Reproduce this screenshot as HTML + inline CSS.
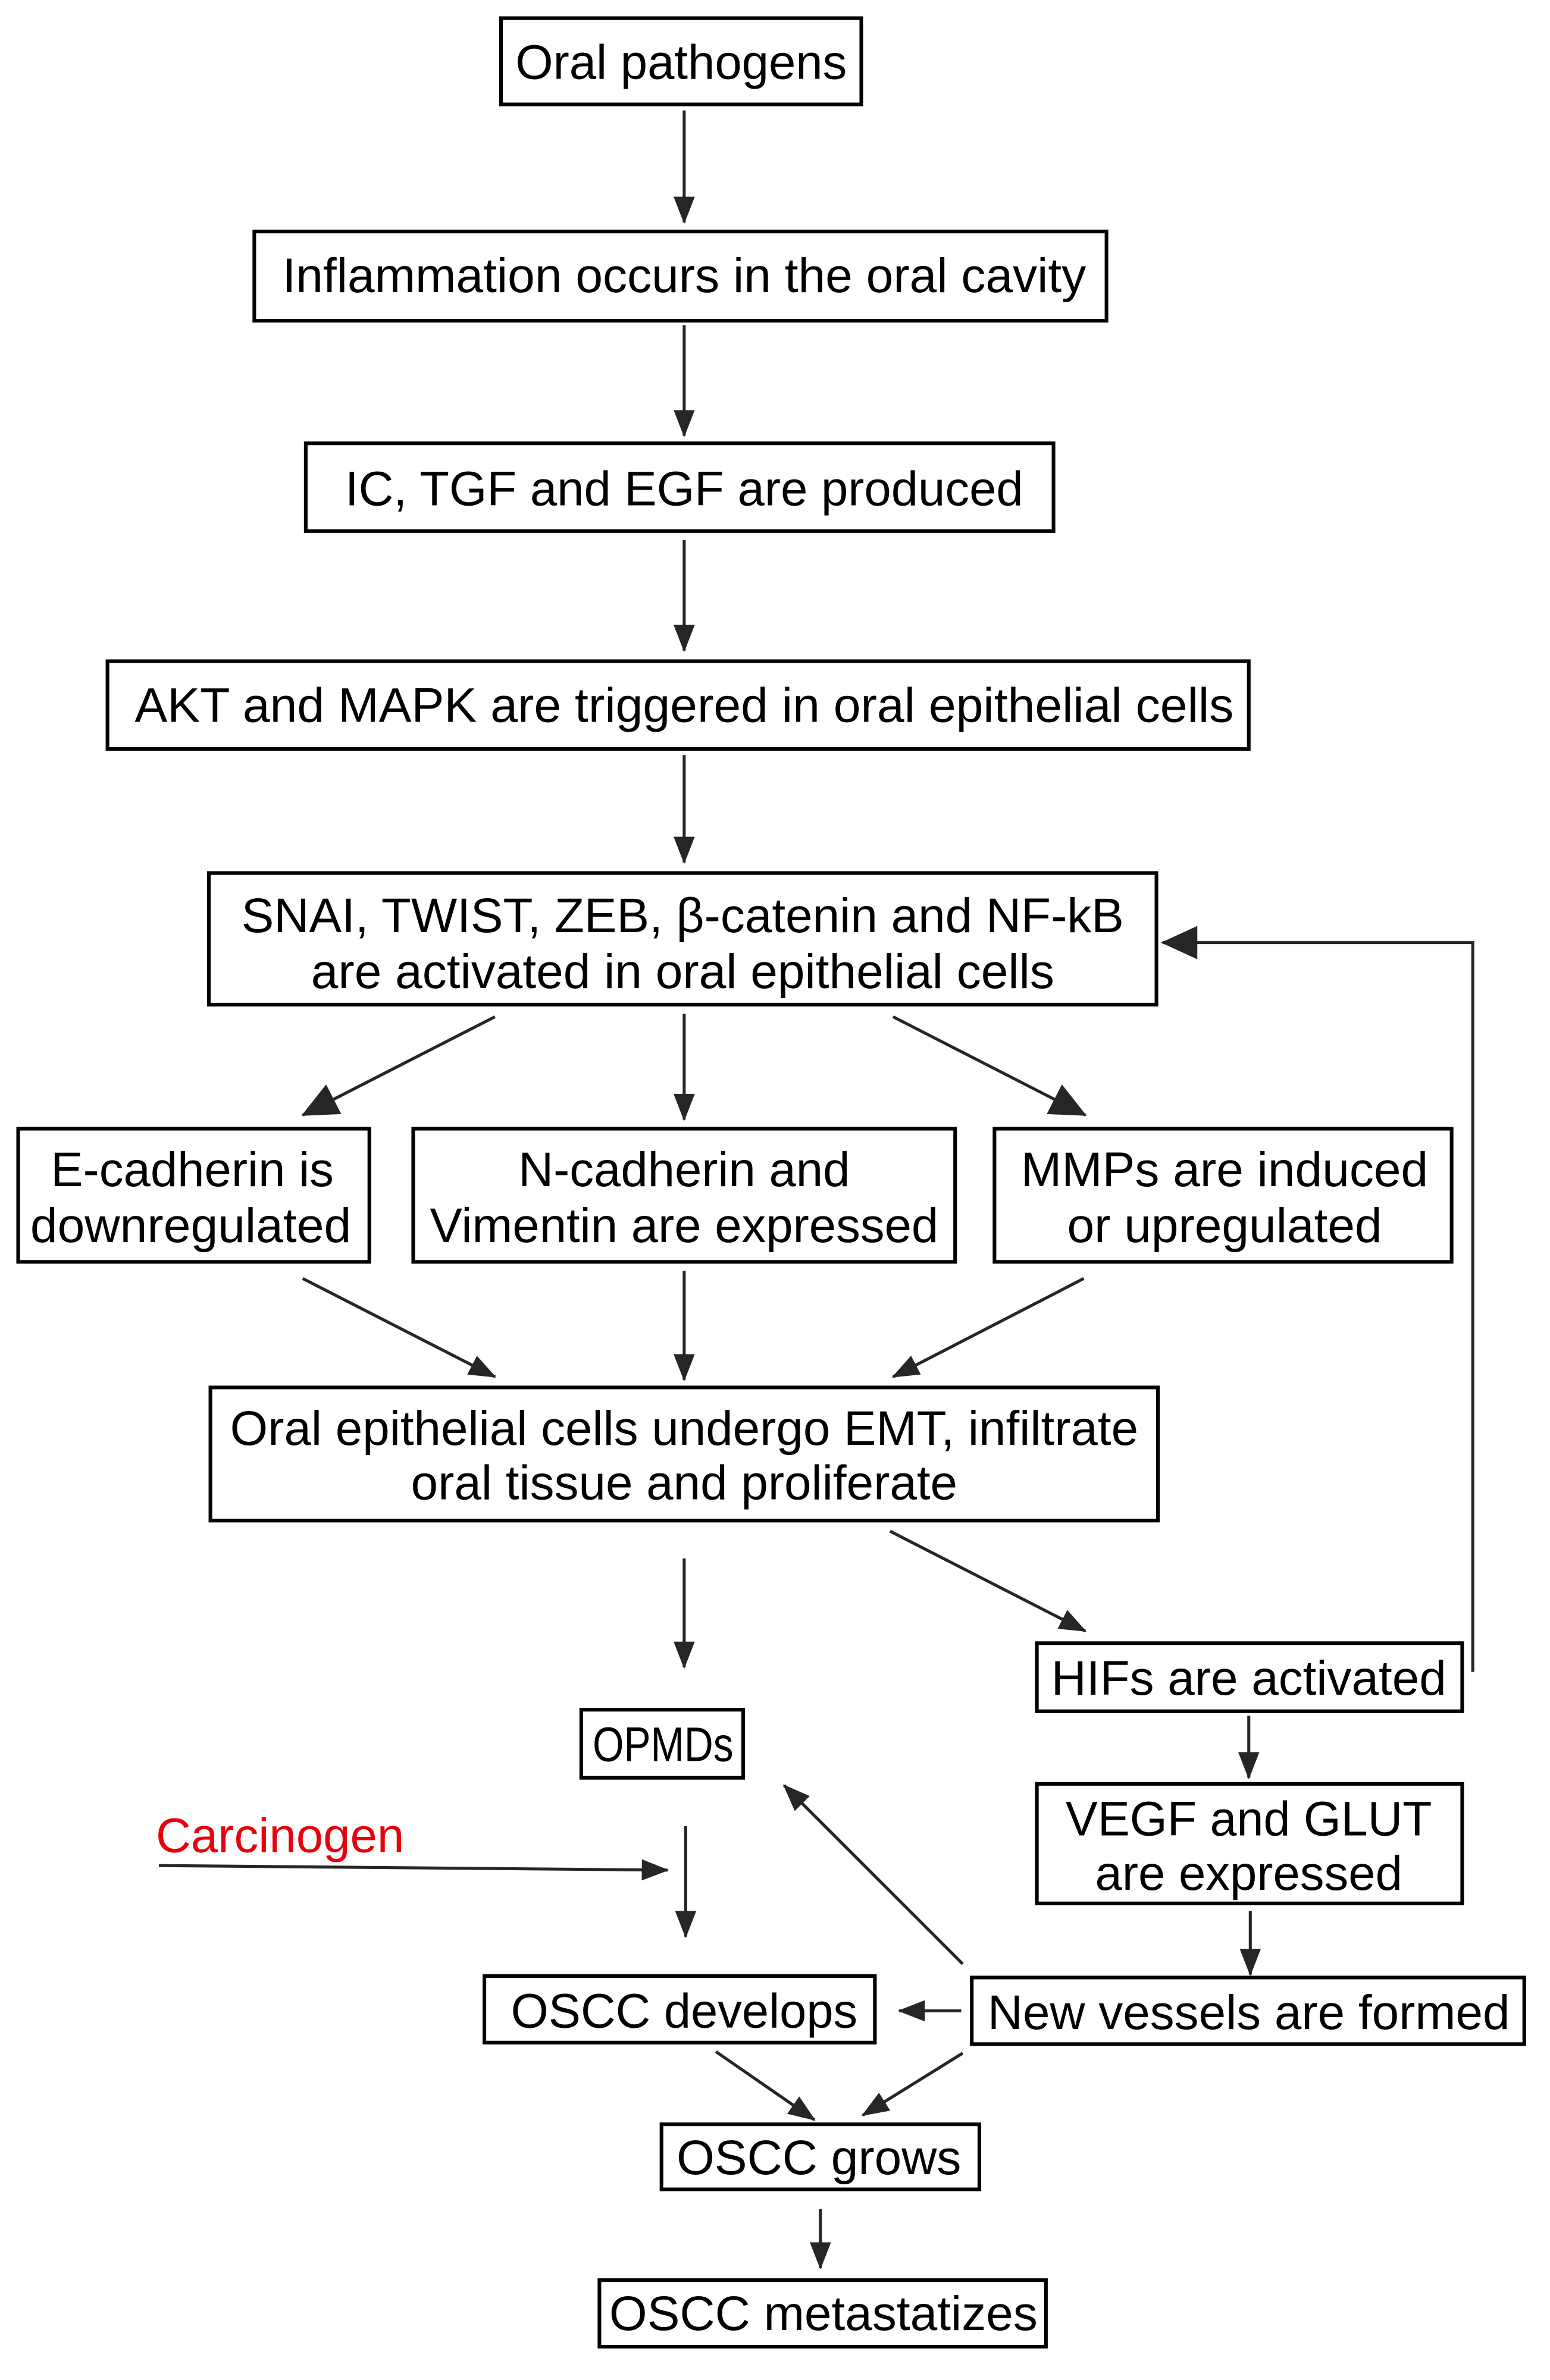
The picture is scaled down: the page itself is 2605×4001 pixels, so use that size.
<!DOCTYPE html>
<html><head><meta charset="utf-8"><style>
html,body{margin:0;padding:0;background:#fff;}
svg{display:block;}
text{font-family:"Liberation Sans",Arial,sans-serif;font-size:32px;fill:#000;text-anchor:middle;}
rect{fill:#fff;stroke:#000;stroke-width:2.4;}
line,polyline{stroke:#262626;stroke-width:2;fill:none;}
</style></head><body>
<svg width="2605" height="4001" viewBox="0 0 1024 1573" preserveAspectRatio="none" xmlns="http://www.w3.org/2000/svg">
<defs>
<marker id="s" markerWidth="18" markerHeight="14" refX="17" refY="7" orient="auto" markerUnits="userSpaceOnUse" viewBox="0 0 18 14"><path d="M0,0 L18,7 L0,14z" fill="#262626"/></marker>
<marker id="b" markerWidth="24" markerHeight="22" refX="23" refY="11" orient="auto" markerUnits="userSpaceOnUse" viewBox="0 0 24 22"><path d="M0,0 L24,11 L0,22z" fill="#262626"/></marker>
</defs>
<g>
<rect x="331" y="12" width="238" height="57"/><text x="450" y="52" textLength="219" lengthAdjust="spacingAndGlyphs">Oral pathogens</text>
<rect x="168" y="153" width="563" height="59"/><text x="452" y="193" textLength="531" lengthAdjust="spacingAndGlyphs">Inflammation occurs in the oral cavity</text>
<rect x="202" y="293" width="494" height="58"/><text x="452" y="334" textLength="448" lengthAdjust="spacingAndGlyphs">IC, TGF and EGF are produced</text>
<rect x="71" y="437" width="754" height="58"/><text x="452" y="477" textLength="726" lengthAdjust="spacingAndGlyphs">AKT and MAPK are triggered in oral epithelial cells</text>
<rect x="138" y="577" width="626" height="87"/><text x="451" y="616" textLength="583" lengthAdjust="spacingAndGlyphs">SNAI, TWIST, ZEB, β-catenin and NF-kB</text><text x="451" y="653" textLength="491" lengthAdjust="spacingAndGlyphs">are activated in oral epithelial cells</text>
<rect x="12" y="746" width="232" height="88"/><text x="127" y="784" textLength="187" lengthAdjust="spacingAndGlyphs">E-cadherin is</text><text x="126" y="821" textLength="212" lengthAdjust="spacingAndGlyphs">downregulated</text>
<rect x="273" y="746" width="358" height="88"/><text x="452" y="784" textLength="219" lengthAdjust="spacingAndGlyphs">N-cadherin and</text><text x="452" y="821" textLength="336" lengthAdjust="spacingAndGlyphs">Vimentin are expressed</text>
<rect x="657" y="746" width="302" height="88"/><text x="809" y="784" textLength="269" lengthAdjust="spacingAndGlyphs">MMPs are induced</text><text x="809" y="821" textLength="208" lengthAdjust="spacingAndGlyphs">or upregulated</text>
<rect x="139" y="917" width="626" height="88"/><text x="452" y="955" textLength="600" lengthAdjust="spacingAndGlyphs">Oral epithelial cells undergo EMT, infiltrate</text><text x="452" y="991" textLength="361" lengthAdjust="spacingAndGlyphs">oral tissue and proliferate</text>
<rect x="685" y="1086" width="281" height="45"/><text x="825" y="1120" textLength="261" lengthAdjust="spacingAndGlyphs">HIFs are activated</text>
<rect x="384" y="1130" width="107" height="45"/><text x="438" y="1164" textLength="93" lengthAdjust="spacingAndGlyphs">OPMDs</text>
<rect x="685" y="1179" width="281" height="79"/><text x="825" y="1213" textLength="242" lengthAdjust="spacingAndGlyphs">VEGF and GLUT</text><text x="825" y="1249" textLength="203" lengthAdjust="spacingAndGlyphs">are expressed</text>
<rect x="320" y="1306" width="258" height="44"/><text x="452" y="1340" textLength="229" lengthAdjust="spacingAndGlyphs">OSCC develops</text>
<rect x="642" y="1307" width="365" height="44"/><text x="825" y="1341" textLength="345" lengthAdjust="spacingAndGlyphs">New vessels are formed</text>
<rect x="437" y="1404" width="210" height="43"/><text x="541" y="1437" textLength="188" lengthAdjust="spacingAndGlyphs">OSCC grows</text>
<rect x="396" y="1507" width="295" height="44"/><text x="544" y="1540" textLength="283" lengthAdjust="spacingAndGlyphs">OSCC metastatizes</text>
<text x="185" y="1224" style="fill:#e8000b" textLength="164" lengthAdjust="spacingAndGlyphs">Carcinogen</text>
</g>
<line x1="452" y1="73" x2="452" y2="147" marker-end="url(#s)"/>
<line x1="452" y1="215" x2="452" y2="288" marker-end="url(#s)"/>
<line x1="452" y1="357" x2="452" y2="430" marker-end="url(#s)"/>
<line x1="452" y1="499" x2="452" y2="570" marker-end="url(#s)"/>
<line x1="327" y1="672" x2="200" y2="737" marker-end="url(#b)"/>
<line x1="452" y1="670" x2="452" y2="740" marker-end="url(#s)"/>
<line x1="590" y1="672" x2="717" y2="737" marker-end="url(#b)"/>
<line x1="200" y1="845" x2="327" y2="910" marker-end="url(#s)"/>
<line x1="452" y1="840" x2="452" y2="912" marker-end="url(#s)"/>
<line x1="716" y1="845" x2="590" y2="910" marker-end="url(#s)"/>
<line x1="452" y1="1030" x2="452" y2="1102" marker-end="url(#s)"/>
<line x1="588" y1="1012" x2="717" y2="1078" marker-end="url(#s)"/>
<polyline points="973,1105 973,623 768,623" marker-end="url(#b)"/>
<line x1="825" y1="1134" x2="825" y2="1175" marker-end="url(#s)"/>
<line x1="826" y1="1263" x2="826" y2="1305" marker-end="url(#s)"/>
<line x1="105" y1="1233" x2="441" y2="1236" marker-end="url(#s)"/>
<line x1="453" y1="1207" x2="453" y2="1280" marker-end="url(#s)"/>
<line x1="636" y1="1298" x2="518" y2="1180" marker-end="url(#s)"/>
<line x1="635" y1="1329" x2="594" y2="1329" marker-end="url(#s)"/>
<line x1="473" y1="1356" x2="538" y2="1401" marker-end="url(#s)"/>
<line x1="636" y1="1357" x2="570" y2="1398" marker-end="url(#s)"/>
<line x1="542" y1="1460" x2="542" y2="1499" marker-end="url(#s)"/>
</svg>
</body></html>
